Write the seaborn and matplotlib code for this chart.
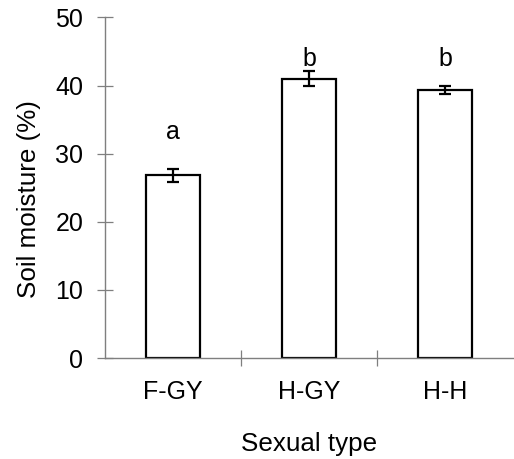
import matplotlib
matplotlib.use("Agg")
import matplotlib.pyplot as plt
import seaborn as sns
import pandas as pd

# values
sexual_types = ["F-GY", "H-GY", "H-H"]
moisture = [26.8, 41.0, 39.4]
moisture_se = [0.9, 1.1, 0.6]
letters = ["a", "b", "b"]
letter_y = [32.1, 42.8, 42.8]

df = pd.DataFrame({"Sexual type": sexual_types, "Soil moisture (%)": moisture})

sns.set_style("white")
plt.rcParams.update({
    "font.family": ["Liberation Sans", "DejaVu Sans"],
    "font.size": 18,
    "text.color": "black",
    "axes.labelcolor": "black",
    "xtick.color": "black",
    "ytick.color": "black",
})

fig = plt.figure(figsize=(5.14, 4.59), dpi=100)
ax = fig.add_axes([0.204, 0.22, 0.794, 0.742])

sns.barplot(data=df, x="Sexual type", y="Soil moisture (%)", color="white",
            edgecolor="black", linewidth=1.6, width=0.4, ax=ax)
ax.errorbar(range(len(sexual_types)), moisture, yerr=moisture_se, fmt="none",
            ecolor="black", elinewidth=1.6, capsize=4.3, capthick=1.6)

for i, (lab, y) in enumerate(zip(letters, letter_y)):
    ax.text(i, y, lab, ha="center", va="baseline", fontsize=18, color="black")

grey = "#7f7f7f"
ax.set_ylim(0, 50)
ax.set_xlim(-0.5, 2.5)
ax.set_yticks(range(0, 51, 10))
ax.set_xticks([0.5, 1.5], minor=True)
ax.tick_params(axis="x", which="major", bottom=False, length=0, pad=16,
               labelsize=18, labelcolor="black")
ax.tick_params(axis="x", which="minor", bottom=True, direction="inout",
               length=11.5, width=0.9, color=grey)
ax.tick_params(axis="y", left=True, direction="inout", length=11, width=0.9,
               color=grey, pad=10, labelsize=18, labelcolor="black")

sns.despine(ax=ax)
for s in ["left", "bottom"]:
    ax.spines[s].set_color(grey)
    ax.spines[s].set_linewidth(1.0)

ax.set_xlabel("Sexual type", fontsize=18.7, labelpad=20, color="black")
ax.set_ylabel("Soil moisture (%)", fontsize=18.7, color="black")
ax.yaxis.set_label_coords(-0.156, 0.468)

fig.savefig("out.png", dpi=100)
